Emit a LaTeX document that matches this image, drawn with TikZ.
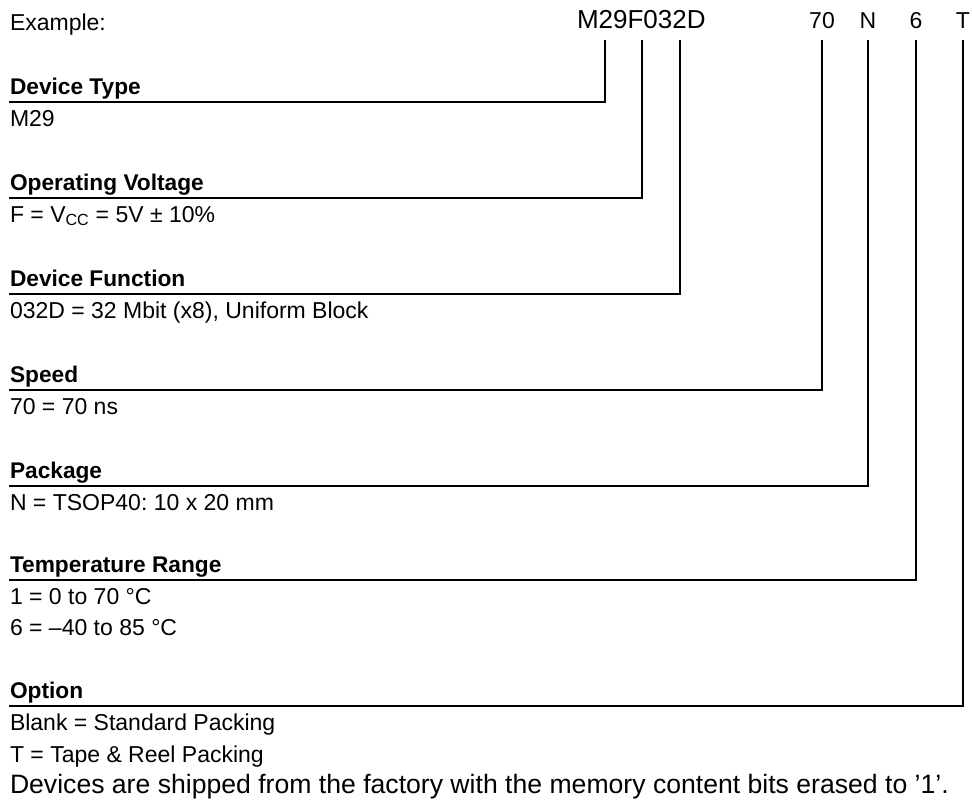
\documentclass[tikz,border=0pt]{standalone}
\usepackage{fontspec}
\setmainfont{Liberation Sans}
\frenchspacing
\begin{document}
\begin{tikzpicture}[x=1pt,y=-1pt,
  every node/.style={inner sep=0pt,outer sep=0pt,anchor=base west},
  body/.style={font=\fontsize{23}{27}\selectfont},
  head/.style={font=\fontsize{22.7}{27}\selectfont\bfseries},
  code/.style={font=\fontsize{23}{27}\selectfont,anchor=base},
  big/.style={font=\fontsize{26}{30}\selectfont},
  foot/.style={font=\fontsize{26.6}{30}\selectfont},
  leader/.style={line width=1.8pt,line join=miter}]
\useasboundingbox (0,0) rectangle (972,800);

% top row
\node[body] (ex) at (10,31) {Example:};
\node[big] (pn) at (577,29) {M29F032D};
\node[code] (c70) at (822,29) {70};
\node[code] (cN) at (868,29) {N};
\node[code] (c6) at (916,29) {6};
\node[code] (cT) at (963,29) {T};

% top ends of the leaders
\coordinate (t1) at (605,40);
\coordinate (t2) at (642,40);
\coordinate (t3) at (680,40);
\coordinate (t4) at (822,40);
\coordinate (t5) at (868,40);
\coordinate (t6) at (916,40);
\coordinate (t7) at (963,40);

% left ends of the leaders
\coordinate (l1) at (9,102);
\coordinate (l2) at (9,198);
\coordinate (l3) at (9,294);
\coordinate (l4) at (9,390);
\coordinate (l5) at (9,486);
\coordinate (l6) at (9,580);
\coordinate (l7) at (9,706);

% groups
\node[head] (h1) at (10,94) {Device Type};
\node[body] (i1) at (10,126) {M29};

\node[head] (h2) at (10,190) {Operating Voltage};
\node[body] (i2) at (10,222) {F = V\textsubscript{CC} = 5V ± 10\%};

\node[head] (h3) at (10,286) {Device Function};
\node[body] (i3) at (10,318) {032D = 32 Mbit (x8), Uniform Block};

\node[head] (h4) at (10,382) {Speed};
\node[body] (i4) at (10,414) {70 = 70 ns};

\node[head] (h5) at (10,478) {Package};
\node[body] (i5) at (10,510) {N = TSOP40: 10 x 20 mm};

\node[head] (h6) at (10,572) {Temperature Range};
\node[body] (i6a) at (10,604) {1 = 0 to 70 °C};
\node[body] (i6b) at (10,635) {6 = –40 to 85 °C};

\node[head] (h7) at (10,698) {Option};
\node[body] (i7a) at (10,730) {Blank = Standard Packing};
\node[body] (i7b) at (10,762) {T = Tape \& Reel Packing};
\node[foot] (ft) at (10,793) {Devices are shipped from the factory with the memory content bits erased to ’1’.};

% leaders
\draw[leader] (t1) |- (l1);
\draw[leader] (t2) |- (l2);
\draw[leader] (t3) |- (l3);
\draw[leader] (t4) |- (l4);
\draw[leader] (t5) |- (l5);
\draw[leader] (t6) |- (l6);
\draw[leader] (t7) |- (l7);
\end{tikzpicture}
\end{document}
